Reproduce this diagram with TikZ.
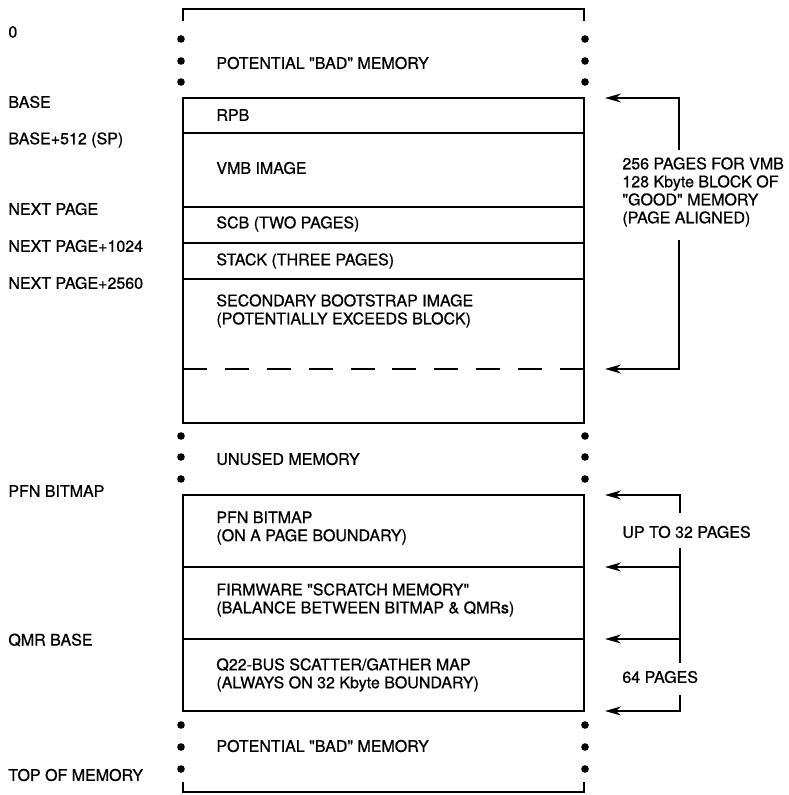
\documentclass[tikz,border=0pt]{standalone}
\usepackage{fontspec}
\setmainfont{TeX Gyre Heros}[Ligatures=TeXOff,FakeBold=0.8]
\usetikzlibrary{arrows.meta}

\tikzset{
  memline/.style={line width=0.9pt},
  arr/.style={line width=0.6pt,-{Stealth[length=8pt,width=4.5pt]}},
  lbl/.style={anchor=west,inner sep=0pt,align=left},
}

\begin{document}
\begin{tikzpicture}[x=0.5pt,y=-0.5pt,font=\fontsize{8}{9}\selectfont]
                \useasboundingbox (0,0) rectangle (788,795);
                \draw[memline] (183,21) -- (183,9) -- (584,9) -- (584,21);
                \foreach \y in {39,61,82,436,457,479,725,747,769} {
                    \fill (181,\y) circle (1.9pt);
                    \fill (585,\y) circle (1.9pt);
                }
                \draw[memline] (183,98) rectangle (584,423);
                \foreach \y in {133,207,243,279}
                    \draw[memline] (183,\y) -- (584,\y);
                \draw[memline,dash pattern=on 12pt off 8.94pt] (183,369) -- (584,369);
                \draw[memline] (183,495) rectangle (584,711);
                \foreach \y in {567,639}
                    \draw[memline] (183,\y) -- (584,\y);
                \draw[memline] (183,782) -- (183,792) -- (584,792) -- (584,782);

                \node[lbl] (zero) at (8,32) {0};
                \node[lbl] (base) at (8,102) {BASE};
                \node[lbl] (basesp) at (8,140) {BASE+512 (SP)};
                \node[lbl] (nextpage) at (8,209) {NEXT PAGE};
                \node[lbl] (nextpagea) at (8,246) {NEXT PAGE+1024};
                \node[lbl] (nextpageb) at (8,283) {NEXT PAGE+2560};
                \node[lbl] (pfnaddr) at (8,491) {PFN BITMAP};
                \node[lbl] (qmrbase) at (8,640) {QMR BASE};
                \node[lbl] (topmem) at (8,775) {TOP OF MEMORY};

                \node[lbl] (badlow) at (216,63) {POTENTIAL "BAD" MEMORY};
                \node[lbl] (rpb) at (216,115) {RPB};
                \node[lbl] (vmb) at (216,168) {VMB IMAGE};
                \node[lbl] (scb) at (216,224) {SCB (TWO PAGES)};
                \node[lbl] (stack) at (216,261) {STACK (THREE PAGES)};
                \node[lbl] (secboot) at (216,311) {SECONDARY BOOTSTRAP IMAGE\\(POTENTIALLY EXCEEDS BLOCK)};
                \node[lbl] (unused) at (216,459) {UNUSED MEMORY};
                \node[lbl] (pfn) at (216,528) {PFN BITMAP\\(ON A PAGE BOUNDARY)};
                \node[lbl] (scratch) at (216,600) {FIRMWARE "SCRATCH MEMORY"\\(BALANCE BETWEEN BITMAP \& QMRs)};
                \node[lbl] (qmap) at (216,675) {Q22-BUS SCATTER/GATHER MAP\\(ALWAYS ON 32 Kbyte BOUNDARY)};
                \node[lbl] (badhigh) at (216,746) {POTENTIAL "BAD" MEMORY};

                \node[lbl] (vmbnote) at (622,192) {256 PAGES FOR VMB\\128 Kbyte BLOCK OF\\"GOOD" MEMORY\\(PAGE ALIGNED)};
                \node[lbl] (pfnnote) at (622,532) {UP TO 32 PAGES};
                \node[lbl] (qmrnote) at (622,677) {64 PAGES};

                \coordinate (tipbase) at (605,98);
                \coordinate (tipdash) at (605,369);
                \coordinate (gapa) at (679,150);
                \coordinate (gapb) at (679,240);
                \draw[arr] (gapa) |- (tipbase);
                \draw[arr] (gapb) |- (tipdash);

                \coordinate (tippfn) at (605,495);
                \coordinate (tipscr) at (605,567);
                \coordinate (tipqmr) at (605,639);
                \coordinate (tipend) at (605,711);
                \coordinate (gapc) at (680,513);
                \coordinate (gapd) at (680,548);
                \coordinate (gape) at (680,663);
                \coordinate (gapf) at (680,695);
                \draw[arr] (gapc) |- (tippfn);
                \draw[line width=0.6pt] (gapd) -- (gape);
                \draw[arr] (gapd |- tipscr) -- (tipscr);
                \draw[arr] (gapd |- tipqmr) -- (tipqmr);
                \draw[arr] (gapf) |- (tipend);
            \end{tikzpicture}
\end{document}
